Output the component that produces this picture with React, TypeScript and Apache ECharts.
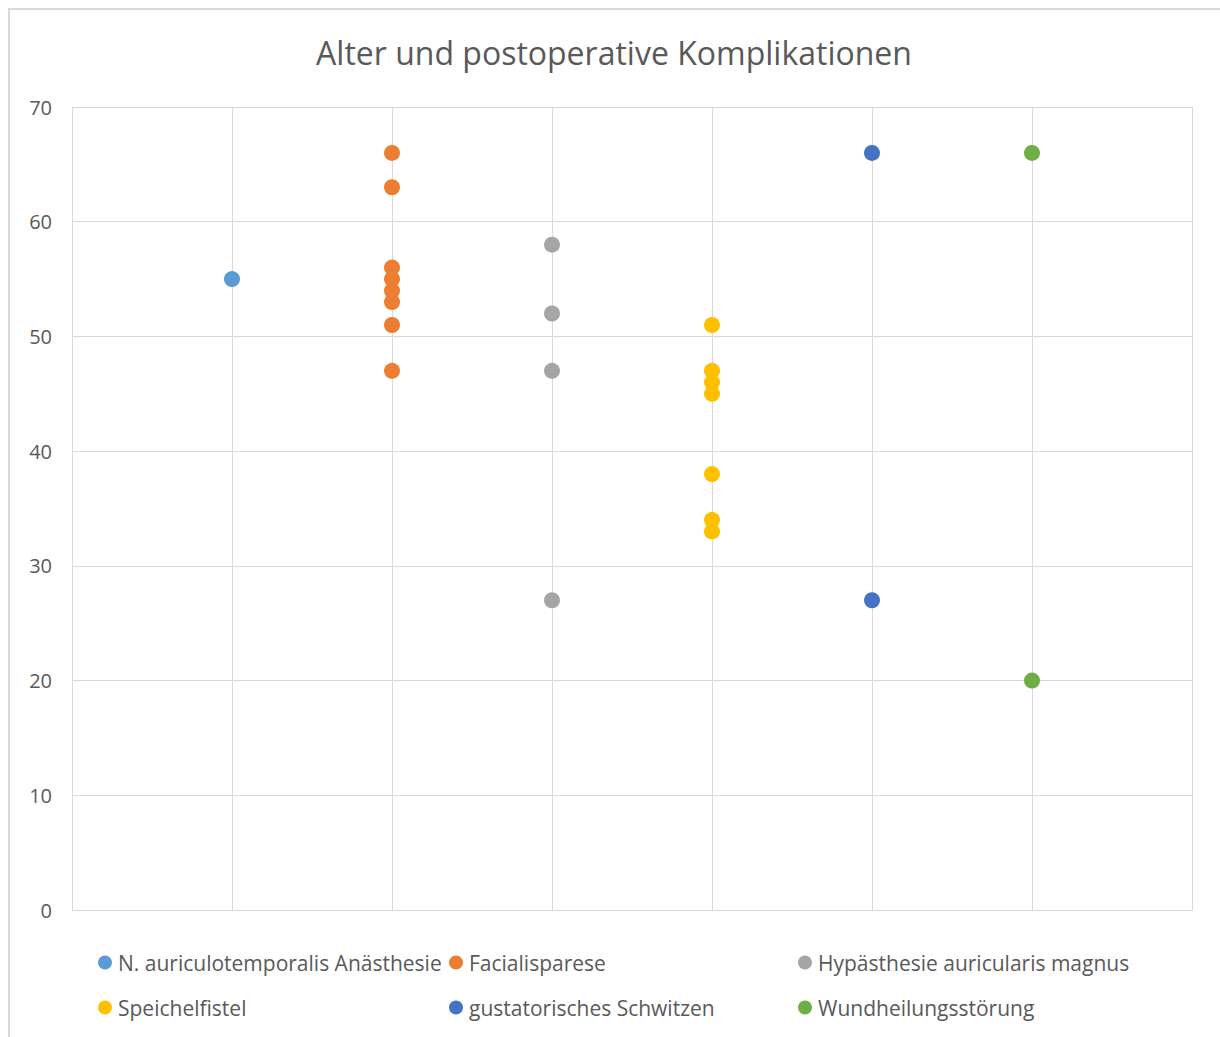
import React, { useEffect, useRef } from "react";
import * as echarts from "echarts";

// Age of patients per postoperative complication
const seriesNames = [
  "N. auriculotemporalis Anästhesie",
  "Facialisparese",
  "Hypästhesie auricularis magnus",
  "Speichelfistel",
  "gustatorisches Schwitzen",
  "Wundheilungsstörung",
];
const seriesColors = ["#5B9BD5", "#ED7D31", "#A5A5A5", "#FFC000", "#4472C4", "#70AD47"];

const anaesthesieAges = [55];
const facialispareseAges = [66, 63, 56, 55, 54, 53, 51, 47];
const hypaesthesieAges = [58, 52, 47, 27];
const speichelfistelAges = [51, 47, 46, 45, 38, 34, 33];
const schwitzenAges = [66, 27];
const wundheilungAges = [66, 20];

const ageGroups = [
  anaesthesieAges,
  facialispareseAges,
  hypaesthesieAges,
  speichelfistelAges,
  schwitzenAges,
  wundheilungAges,
];

const yTicks = [0, 10, 20, 30, 40, 50, 60, 70];

const TEXT = "#595959";
const GRID = "#D9D9D9";
const FONT = "'Open Sans', 'Noto Sans', sans-serif";

export default function App() {
  const ref = useRef<HTMLDivElement>(null);

  useEffect(() => {
    if (!ref.current) return;
    const chart = echarts.init(ref.current, null, { renderer: "svg" });

    const series = ageGroups.map((ages, i) => ({
      name: seriesNames[i],
      type: "scatter",
      symbol: "circle",
      symbolSize: 16,
      itemStyle: { color: seriesColors[i], opacity: 1 },
      data: ages.map((a) => [i + 1, a]),
    }));

    const legendCol = (names: string[], left: number) => ({
      orient: "vertical",
      left,
      top: 944,
      itemGap: 24,
      itemWidth: 14,
      itemHeight: 14,
      icon: "circle",
      padding: 0,
      data: names,
      textStyle: { color: TEXT, fontSize: 21, fontFamily: FONT, padding: [0, 0, 0, 1] },
    });

    chart.setOption({
      animation: false,
      backgroundColor: "#fff",
      title: {
        text: "Alter und postoperative Komplikationen",
        left: "center",
        top: 23,
        textStyle: { color: TEXT, fontSize: 32, fontWeight: "normal", fontFamily: FONT },
      },
      graphic: [
        {
          type: "rect",
          shape: { x: 1, y: 1, width: 1400, height: 1400 },
          style: { fill: "none", stroke: GRID, lineWidth: 2 },
          silent: true,
        },
      ],
      legend: [
        legendCol([seriesNames[0], seriesNames[3]], 90),
        legendCol([seriesNames[1], seriesNames[4]], 441),
        legendCol([seriesNames[2], seriesNames[5]], 790),
      ],
      grid: { left: 64, top: 99, right: 28, bottom: 127 },
      xAxis: {
        type: "value",
        min: 0,
        max: 7,
        interval: 1,
        axisLine: { show: true, lineStyle: { color: GRID } },
        axisTick: { show: false },
        axisLabel: { show: false },
        splitLine: { show: true, lineStyle: { color: GRID, width: 1 } },
      },
      yAxis: {
        type: "value",
        min: yTicks[0],
        max: yTicks[yTicks.length - 1],
        interval: 10,
        axisLine: { show: false },
        axisTick: { show: false },
        axisLabel: { color: TEXT, fontSize: 20, fontFamily: FONT, margin: 20 },
        splitLine: { show: true, lineStyle: { color: GRID, width: 1 } },
      },
      series,
    });

    return () => chart.dispose();
  }, []);

  return (
    <div
      ref={ref}
      style={{ position: "absolute", left: 8, top: 8, width: 1212, height: 1029 }}
    />
  );
}
